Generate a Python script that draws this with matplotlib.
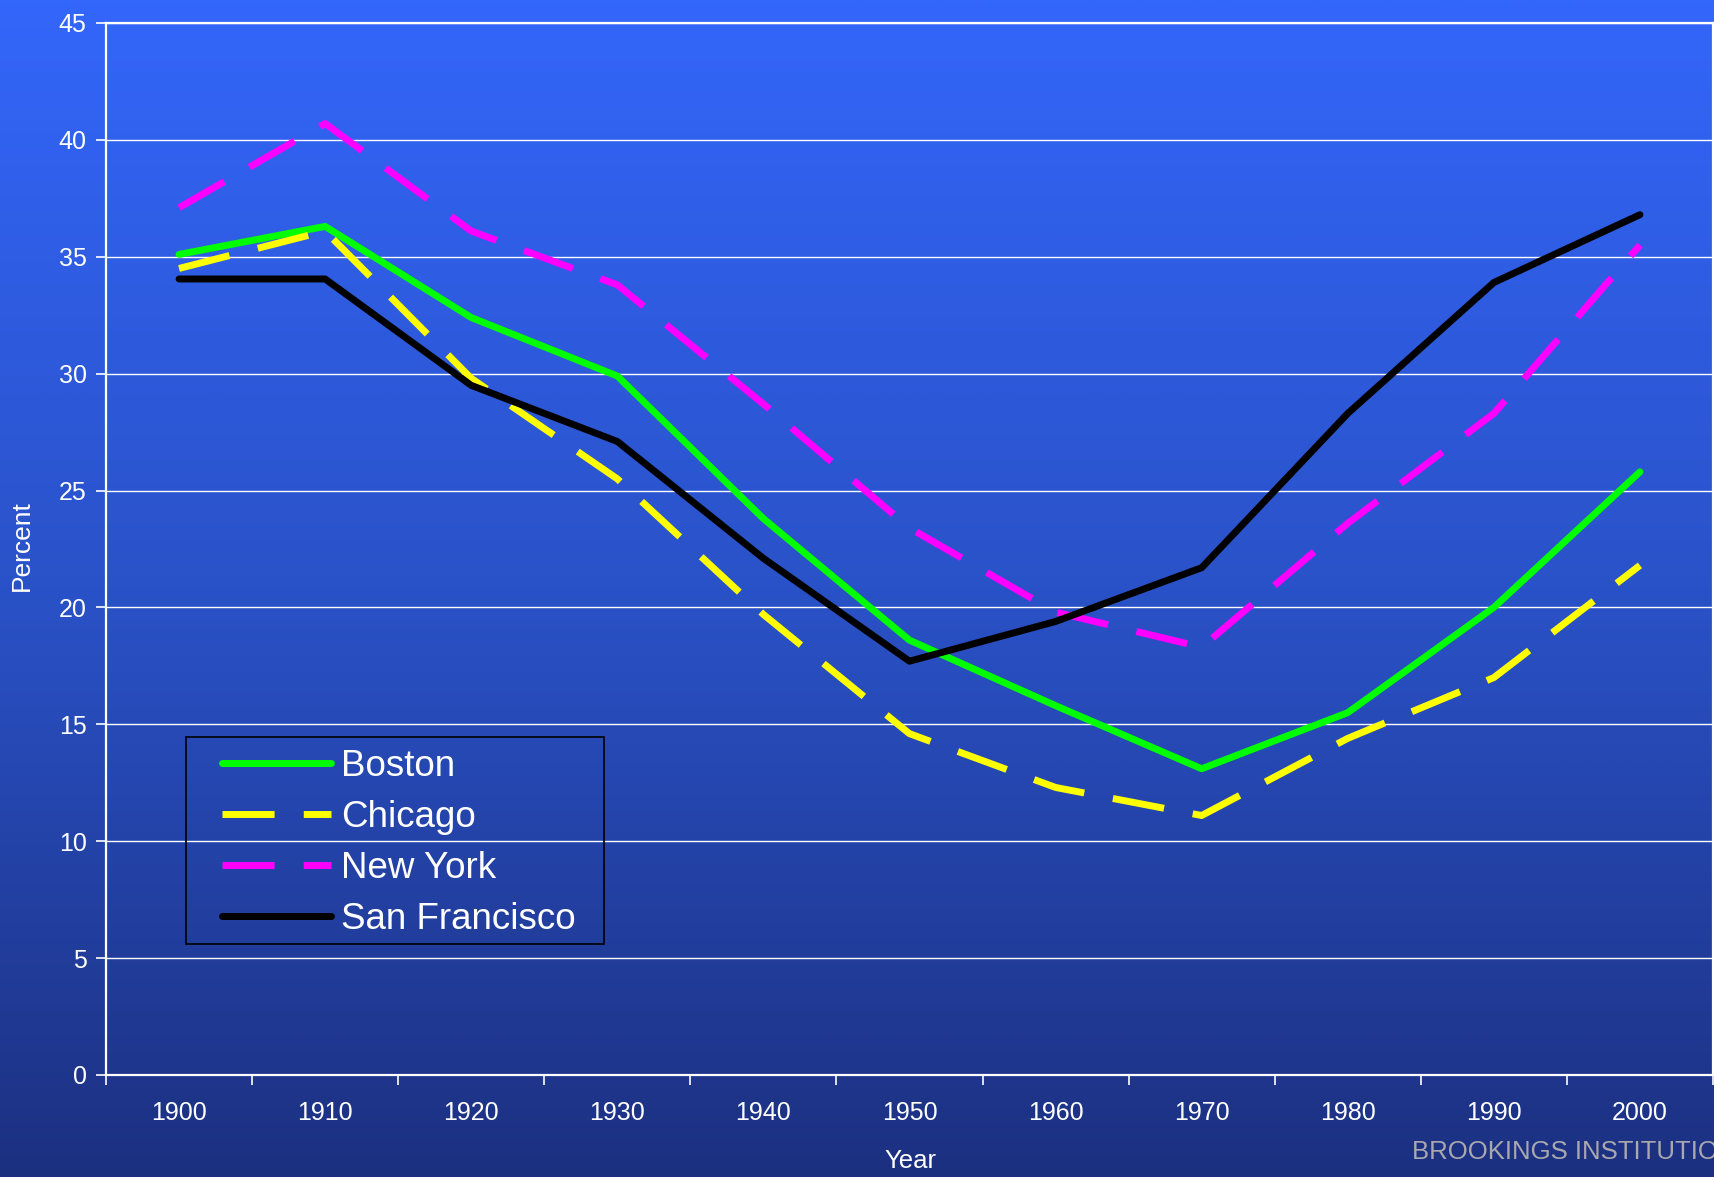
import numpy as np
import matplotlib
matplotlib.use("Agg")
import matplotlib.pyplot as plt
from matplotlib.colors import LinearSegmentedColormap
from matplotlib.patches import Rectangle

years = ["1900", "1910", "1920", "1930", "1940", "1950", "1960", "1970", "1980", "1990", "2000"]
boston = [35.1, 36.3, 32.4, 29.9, 23.8, 18.6, 15.8, 13.1, 15.5, 20.0, 25.8]
chicago = [34.5, 36.1, 29.8, 25.5, 19.7, 14.6, 12.3, 11.1, 14.4, 17.0, 21.8]
new_york = [37.1, 40.7, 36.1, 33.8, 28.7, 23.4, 19.8, 18.3, 23.6, 28.3, 35.5]
san_francisco = [34.05, 34.05, 29.5, 27.1, 22.1, 17.7, 19.4, 21.7, 28.3, 33.9, 36.8]
y_ticks = [0, 5, 10, 15, 20, 25, 30, 35, 40, 45]

plt.rcParams['font.family'] = ['Liberation Sans', 'DejaVu Sans']

W, H = 1715, 1177
fig = plt.figure(figsize=(W / 100, H / 100), dpi=100)

# background gradient
bg = fig.add_axes([0, 0, 1, 1], zorder=-10)
cmap = LinearSegmentedColormap.from_list(
    "bg", [(0.0, (51/255, 102/255, 250/255)),
           (0.5, (42/255, 82/255, 200/255)),
           (1.0, (28/255, 48/255, 128/255))])
grad = np.linspace(0, 1, 512).reshape(-1, 1)
bg.imshow(grad, aspect='auto', cmap=cmap, extent=[0, 1, 0, 1], origin='upper')
bg.set_axis_off()

left, right = 106 / W, 1713 / W
bottom, top = (H - 1075) / H, (H - 23) / H
ax = fig.add_axes([left, bottom, right - left, top - bottom])
ax.set_facecolor('none')

x = np.arange(len(years))
lw = 5.0
ax.plot(x, boston, color='#00FF00', lw=lw, solid_capstyle='round', solid_joinstyle='round', label='Boston', zorder=3)
ax.plot(x, chicago, color='#FFFF00', lw=lw, dashes=(7.5, 4.2), dash_capstyle='butt', label='Chicago', zorder=3)
ax.plot(x, new_york, color='#FF00FF', lw=lw, dashes=(7.5, 4.2), dash_capstyle='butt', label='New York', zorder=3)
ax.plot(x, san_francisco, color='#000000', lw=lw, solid_capstyle='round', solid_joinstyle='round', label='San Francisco', zorder=3)

ax.set_xlim(-0.5, len(years) - 0.5)
ax.set_ylim(0, 45)
ax.set_yticks(y_ticks)
ax.set_yticklabels([str(v) for v in y_ticks])
ax.set_xticks(x)
ax.set_xticklabels(years)
ax.set_xticks(np.arange(-0.5, len(years)), minor=True)
ax.tick_params(axis='x', which='major', length=0, pad=18.5, labelsize=18, colors='white')
ax.tick_params(axis='x', which='minor', length=7, width=1.2, color='white', direction='out')
ax.tick_params(axis='y', which='major', length=7, width=1.2, color='white', direction='out',
               pad=7, labelsize=18, labelcolor='white')
ax.yaxis.grid(True, color='white', lw=1.0, zorder=1)
ax.set_axisbelow(True)
for s in ax.spines.values():
    s.set_color('white')
    s.set_linewidth(1.6)

fig.text(22 / W, 1 - 546 / H, "Percent", rotation=90, color='white', fontsize=19,
         ha='center', va='center')
fig.text(910 / W, 1 - 1161 / H, "Year", color='white', fontsize=18.5, ha='center', va='center')
fig.text(1412 / W, 1 - 1152 / H, "BROOKINGS INSTITUTION", color='#A8A8AE', fontsize=18.5,
         ha='left', va='center')

# legend frame
fig.patches.append(Rectangle((186 / W, 1 - 944 / H), (604 - 186) / W, (944 - 737) / H,
                             transform=fig.transFigure, fill=False, edgecolor='black',
                             lw=1.2, zorder=5))
leg = ax.legend(loc='center left', bbox_to_anchor=(222 / W, 1 - 843 / H),
                bbox_transform=fig.transFigure, fontsize=26.5,
                frameon=False, handlelength=2.97, handletextpad=0.27, borderpad=0,
                labelspacing=0.44, borderaxespad=0)
for t in leg.get_texts():
    t.set_color('white')

fig.savefig("out.png", dpi=100)
